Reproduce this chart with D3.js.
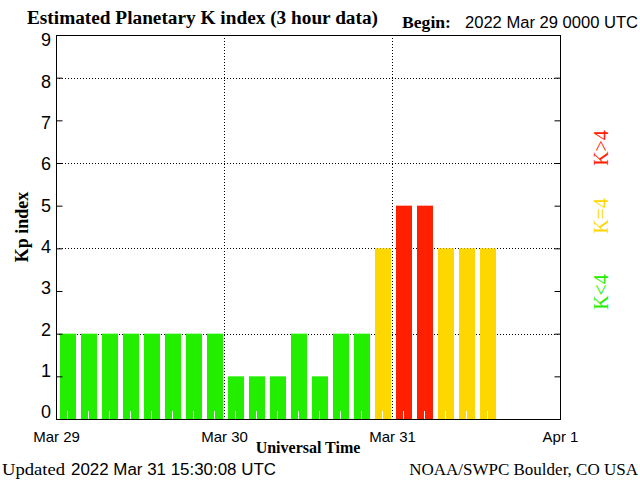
<!DOCTYPE html>
<html>
<head>
<meta charset="utf-8">
<script src="https://cdn.jsdelivr.net/npm/d3@7"></script>
<style>
  html, body { margin: 0; padding: 0; background: #fff; }
  svg { display: block; }
</style>
</head>
<body>
<svg id="chart" width="640" height="480"></svg>
<script>
// ---- data ----
const slotStarts = [
  "2022-03-29T00:00Z","2022-03-29T03:00Z","2022-03-29T06:00Z","2022-03-29T09:00Z",
  "2022-03-29T12:00Z","2022-03-29T15:00Z","2022-03-29T18:00Z","2022-03-29T21:00Z",
  "2022-03-30T00:00Z","2022-03-30T03:00Z","2022-03-30T06:00Z","2022-03-30T09:00Z",
  "2022-03-30T12:00Z","2022-03-30T15:00Z","2022-03-30T18:00Z","2022-03-30T21:00Z",
  "2022-03-31T00:00Z","2022-03-31T03:00Z","2022-03-31T06:00Z","2022-03-31T09:00Z",
  "2022-03-31T12:00Z"
];
const kpValues = [2,2,2,2,2,2,2,2, 1,1,1,2,1,2,2,4, 5,5,4,4,4];
const xTickDates = ["2022-03-29T00:00Z","2022-03-30T00:00Z","2022-03-31T00:00Z","2022-04-01T00:00Z"];
const xTickLabels = ["Mar 29","Mar 30","Mar 31","Apr 1"];
const yTicks = [0,1,2,3,4,5,6,7,8,9];
const yGridValues = [2,4,6,8];
const legendItems = [
  {label: "K<4", color: "#22ee00", center: 292},
  {label: "K=4", color: "#ffd700", center: 216},
  {label: "K>4", color: "#ff2000", center: 148}
];
const titleText = "Estimated Planetary K index (3 hour data)";
const beginLabel = "Begin:";
const beginText = "2022 Mar 29 0000 UTC";
const updatedLabel = "Updated";
const updatedText = "2022 Mar 31 15:30:08 UTC";
const creditText = "NOAA/SWPC Boulder, CO USA";

// ---- layout ----
const L = 56, R = 560, T = 35, B = 419;
const svg = d3.select("#chart");
const serif = "'Liberation Serif', 'Times New Roman', serif";
const sans = "'Liberation Sans', Arial, sans-serif";

const parse = d3.utcParse("%Y-%m-%dT%H:%MZ");
const slots = slotStarts.map(parse);
const xDates = xTickDates.map(parse);

const x = d3.scaleUtc().domain([xDates[0], xDates[xDates.length - 1]]).range([L, R]);
const y = d3.scaleLinear().domain([0, 9]).range([B, T]);
// tick labels sit slightly inside the frame ends (as in the original plot)
const yLab = d3.scaleLinear().domain([0, 9]).range([412, 40]);

function kpColor(v) { return v < 4 ? "#22ee00" : (v === 4 ? "#ffd700" : "#ff2000"); }

// gridlines (behind bars)
const grid = svg.append("g").attr("stroke", "#000").attr("stroke-width", 1).attr("stroke-dasharray", "1,2");
grid.selectAll("line.h").data(yGridValues).join("line")
  .attr("x1", L).attr("x2", R)
  .attr("y1", d => Math.round(y(d)) + 0.5).attr("y2", d => Math.round(y(d)) + 0.5);
grid.selectAll("line.v").data(xDates.slice(1, -1)).join("line")
  .attr("x1", d => Math.round(x(d)) + 0.5).attr("x2", d => Math.round(x(d)) + 0.5)
  .attr("y1", T).attr("y2", B);

// bars
const data = slots.map((t, i) => ({t, end: d3.utcHour.offset(t, 3), v: kpValues[i]}));
svg.append("g").selectAll("rect").data(data).join("rect")
  .attr("x", d => x(d.t) + 4)
  .attr("width", d => x(d.end) - x(d.t) - 5)
  .attr("y", d => y(d.v))
  .attr("height", d => y(0) - y(d.v))
  .attr("fill", d => kpColor(d.v));

// white mid-slot ticks
svg.append("g").selectAll("line").data(data).join("line")
  .attr("x1", d => Math.round(x(d3.utcMinute.offset(d.t, 90))) + 0.5)
  .attr("x2", d => Math.round(x(d3.utcMinute.offset(d.t, 90))) + 0.5)
  .attr("y1", B - 8).attr("y2", B)
  .attr("stroke", "#fff").attr("stroke-width", 1);

// frame
svg.append("rect").attr("x", L + 0.5).attr("y", T + 0.5)
  .attr("width", R - L).attr("height", B - T)
  .attr("fill", "none").attr("stroke", "#000").attr("stroke-width", 1);

// left axis ticks
const yAxisL = d3.axisLeft(y).tickValues(yTicks).tickSizeInner(-6).tickSizeOuter(0).tickFormat("");
const gL = svg.append("g").attr("transform", `translate(${L + 0.5},0)`).call(yAxisL);
gL.select(".domain").remove();

// left tick labels
svg.append("g").selectAll("text").data(yTicks).join("text")
  .attr("x", 51).attr("y", d => yLab(d)).attr("dy", "0.36em")
  .attr("text-anchor", "end")
  .attr("font-family", sans).attr("font-size", 18).attr("fill", "#000")
  .text(d => d3.format("d")(d));

// right axis ticks
const yAxisR = d3.axisRight(y).tickValues(yTicks).tickSizeInner(-6).tickSizeOuter(0).tickFormat("");
const gR = svg.append("g").attr("transform", `translate(${R + 0.5},0)`).call(yAxisR);
gR.select(".domain").remove();

// bottom labels
const xAxis = d3.axisBottom(x).tickValues(xDates).tickSize(0).tickPadding(12)
  .tickFormat((d, i) => xTickLabels[i]);
const gB = svg.append("g").attr("transform", `translate(0,${B})`).call(xAxis);
gB.select(".domain").remove();
gB.selectAll("text").attr("font-family", sans).attr("font-size", 15).attr("fill", "#000");

// titles
svg.append("text").attr("x", 27).attr("y", 24)
  .attr("font-family", serif).attr("font-weight", "bold").attr("font-size", 18)
  .attr("textLength", 351).attr("lengthAdjust", "spacingAndGlyphs")
  .text(titleText);
svg.append("text").attr("x", 402).attr("y", 28)
  .attr("font-family", serif).attr("font-weight", "bold").attr("font-size", 17)
  .attr("textLength", 49).attr("lengthAdjust", "spacingAndGlyphs")
  .text(beginLabel);
svg.append("text").attr("x", 465).attr("y", 28)
  .attr("font-family", sans).attr("font-size", 16)
  .attr("textLength", 173).attr("lengthAdjust", "spacingAndGlyphs")
  .text(beginText);

svg.append("text").attr("x", (L + R) / 2).attr("y", 453).attr("text-anchor", "middle")
  .attr("font-family", serif).attr("font-weight", "bold").attr("font-size", 16)
  .text("Universal Time");

svg.append("text").attr("transform", "translate(28,227) rotate(-90)").attr("text-anchor", "middle")
  .attr("font-family", serif).attr("font-weight", "bold").attr("font-size", 18)
  .text("Kp index");

svg.append("text").attr("x", 2).attr("y", 475)
  .attr("font-family", serif).attr("font-size", 17)
  .attr("textLength", 63).attr("lengthAdjust", "spacingAndGlyphs")
  .text(updatedLabel);
svg.append("text").attr("x", 71).attr("y", 475)
  .attr("font-family", sans).attr("font-size", 16)
  .attr("textLength", 205).attr("lengthAdjust", "spacingAndGlyphs")
  .text(updatedText);

svg.append("text").attr("x", 638).attr("y", 475).attr("text-anchor", "end")
  .attr("font-family", serif).attr("font-size", 17)
  .text(creditText);

// right legend
svg.append("g").selectAll("text").data(legendItems).join("text")
  .attr("transform", d => `translate(608,${d.center}) rotate(-90)`)
  .attr("text-anchor", "middle")
  .attr("font-family", serif).attr("font-size", 20)
  .attr("fill", d => d.color)
  .text(d => d.label);
</script>
</body>
</html>
